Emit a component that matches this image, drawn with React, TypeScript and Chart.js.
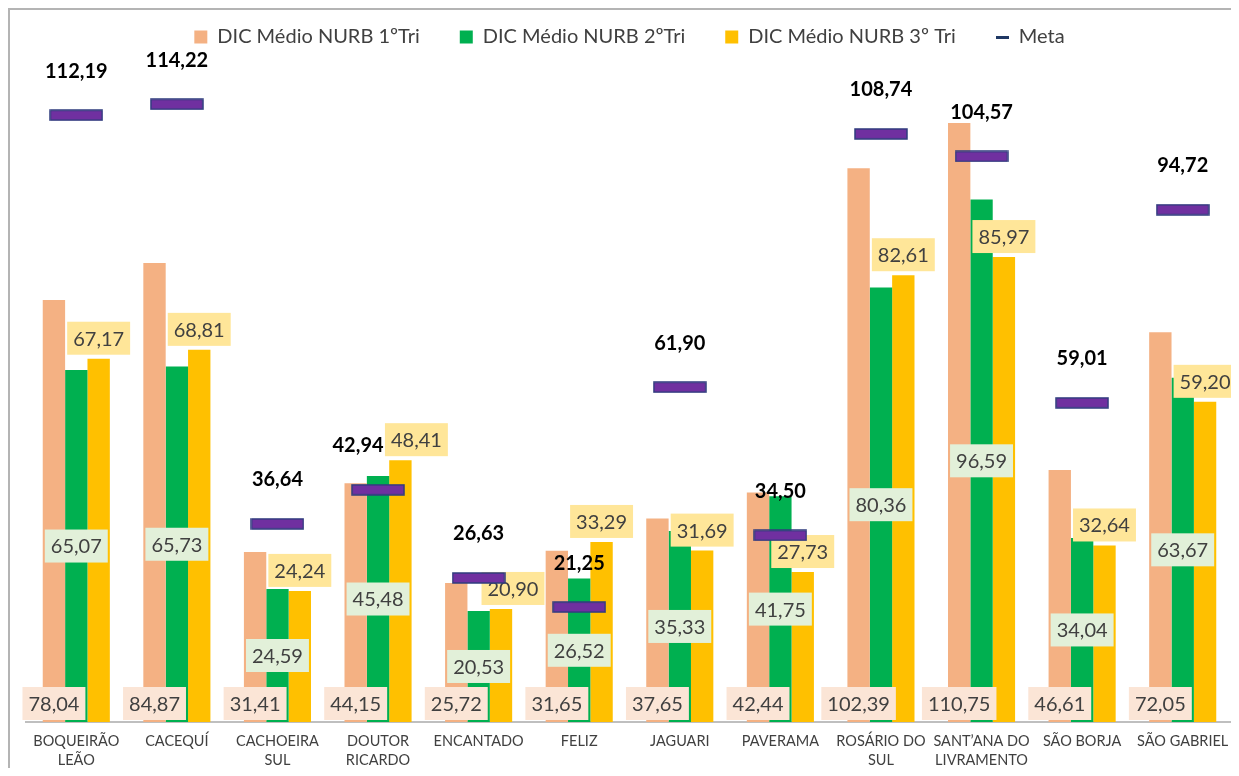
import React, { useEffect, useRef } from 'react';
import { Chart, registerables } from 'chart.js';

Chart.register(...registerables);

const categories: string[][] = [
  ['BOQUEIRÃO', 'LEÃO'],
  ['CACEQUÍ'],
  ['CACHOEIRA', 'SUL'],
  ['DOUTOR', 'RICARDO'],
  ['ENCANTADO'],
  ['FELIZ'],
  ['JAGUARI'],
  ['PAVERAMA'],
  ['ROSÁRIO DO', 'SUL'],
  ['SANT’ANA DO', 'LIVRAMENTO'],
  ['SÃO BORJA'],
  ['SÃO GABRIEL'],
];
const dicTri1 = [78.04, 84.87, 31.41, 44.15, 25.72, 31.65, 37.65, 42.44, 102.39, 110.75, 46.61, 72.05];
const dicTri2 = [65.07, 65.73, 24.59, 45.48, 20.53, 26.52, 35.33, 41.75, 80.36, 96.59, 34.04, 63.67];
const dicTri3 = [67.17, 68.81, 24.24, 48.41, 20.9, 33.29, 31.69, 27.73, 82.61, 85.97, 32.64, 59.2];
const metaValues = [112.19, 114.22, 36.64, 42.94, 26.63, 21.25, 61.9, 34.5, 108.74, 104.57, 59.01, 94.72];
const seriesNames = ['DIC Médio NURB 1ºTri', 'DIC Médio NURB 2ºTri', 'DIC Médio NURB 3º Tri', 'Meta'];
const yMin = 0;
const yMax = 120;

const COLORS = ['#F4B183', '#00B050', '#FFC000'];
const LABEL_BG = ['#FBE5D6', '#E2F0D9', '#FFE699'];
const TEXT = '#404040';
const FONT = 'Lato, "Open Sans", sans-serif';
// hand-placed label nudges (datasetIndex:categoryIndex -> dx in px), as in the original figure
const LABEL_NUDGE: Record<string, number> = { '3:3': -20, '2:3': 16, '2:4': 12 };

const fmt = (v: number) => v.toFixed(2).replace('.', ',');

function makeMarker() {
  const c = document.createElement('canvas');
  c.width = 54;
  c.height = 12;
  const g = c.getContext('2d')!;
  g.fillStyle = '#7030A0';
  g.fillRect(1, 1, 52, 10);
  g.strokeStyle = '#2F3C7E';
  g.lineWidth = 1.5;
  g.strokeRect(1, 1, 52, 10);
  return c;
}

function makeLegendDash() {
  const c = document.createElement('canvas');
  c.width = 13;
  c.height = 3;
  const g = c.getContext('2d')!;
  g.fillStyle = '#1F3864';
  g.fillRect(0, 0, 13, 3);
  return c;
}

function drawBarLabels(chart: any) {
  const ctx: CanvasRenderingContext2D = chart.ctx;
  ctx.save();
  for (let di = 0; di < 3; di++) {
    const ds = chart.data.datasets[di];
    const meta = chart.getDatasetMeta(di);
    meta.data.forEach((el: any, i: number) => {
      const text = fmt(ds.data[i] as number);
      const p = el.getProps(['x', 'y', 'base'], true);
      const h = 33;
      let cy: number;
      if (di === 0) cy = p.base - 2 - h / 2;
      else if (di === 1) cy = (p.y + p.base) / 2;
      else cy = p.y - 4 - h / 2;
      const cx = p.x + (LABEL_NUDGE[`${di}:${i}`] || 0);
      ctx.font = `20px ${FONT}`;
      const w = ctx.measureText(text).width + 12;
      ctx.fillStyle = LABEL_BG[di];
      ctx.fillRect(cx - w / 2, cy - h / 2, w, h);
      ctx.fillStyle = TEXT;
      ctx.textAlign = 'center';
      ctx.textBaseline = 'middle';
      ctx.fillText(text, cx, cy + 1);
    });
  }
  ctx.restore();
}

const labelPlugin = {
  id: 'valueLabels',
  beforeDatasetDraw(chart: any, args: any) {
    if (args.index === 3) drawBarLabels(chart);
  },
  afterDatasetsDraw(chart: any) {
    const ctx: CanvasRenderingContext2D = chart.ctx;
    ctx.save();
    const ds = chart.data.datasets[3];
    const meta = chart.getDatasetMeta(3);
    meta.data.forEach((el: any, i: number) => {
      const p = el.getProps(['x', 'y'], true);
      ctx.font = `bold 20px ${FONT}`;
      ctx.fillStyle = '#000000';
      ctx.textAlign = 'center';
      ctx.textBaseline = 'middle';
      ctx.fillText(fmt(ds.data[i] as number), p.x + (LABEL_NUDGE[`3:${i}`] || 0), p.y - 44);
    });
    ctx.restore();
  },
};

const legendSpacing = {
  id: 'legendSpacing',
  beforeInit(chart: any) {
    const legend = chart.legend;
    if (!legend) return;
    const orig = legend.fit;
    legend.fit = function () {
      orig.call(this);
      this.height += 16;
    };
  },
};

export default function App() {
  const ref = useRef<HTMLCanvasElement | null>(null);

  useEffect(() => {
    if (!ref.current) return;
    const marker = makeMarker();
    const dash = makeLegendDash();
    const chart = new Chart(ref.current, {
      type: 'bar',
      data: {
        labels: categories,
        datasets: [
          { label: seriesNames[0], data: dicTri1, backgroundColor: COLORS[0], order: 1, categoryPercentage: 0.667, barPercentage: 1 } as any,
          { label: seriesNames[1], data: dicTri2, backgroundColor: COLORS[1], order: 1, categoryPercentage: 0.667, barPercentage: 1 } as any,
          { label: seriesNames[2], data: dicTri3, backgroundColor: COLORS[2], order: 1, categoryPercentage: 0.667, barPercentage: 1 } as any,
          {
            type: 'line',
            label: seriesNames[3],
            data: metaValues,
            showLine: false,
            pointStyle: marker,
            pointRadius: 5,
            backgroundColor: '#7030A0',
            borderColor: '#1F3864',
            order: 0,
          } as any,
        ],
      },
      options: {
        responsive: false,
        animation: false,
        layout: { padding: { top: -23, left: 16, right: 6, bottom: 0 } },
        plugins: {
          tooltip: { enabled: false },
          legend: {
            position: 'top',
            labels: {
              usePointStyle: true,
              boxWidth: 13,
              boxHeight: 13,
              padding: 40,
              color: TEXT,
              font: { family: FONT, size: 20 },
              sort: (a: any, b: any) => a.datasetIndex - b.datasetIndex,
              generateLabels: (c: any) => {
                const items = (Chart.defaults.plugins.legend.labels as any).generateLabels(c);
                return items.map((it: any) =>
                  it.datasetIndex === 3
                    ? { ...it, pointStyle: dash, lineWidth: 0 }
                    : { ...it, pointStyle: 'rect', lineWidth: 0 }
                );
              },
            },
          },
        },
        scales: {
          x: {
            grid: { display: false, drawTicks: false },
            border: { display: true, color: '#BFBFBF', width: 2 },
            ticks: {
              color: TEXT,
              font: { family: FONT, size: 14.5, lineHeight: 1.31 },
              padding: 10,
              maxRotation: 0,
              autoSkip: false,
            },
            afterFit: (s: any) => {
              s.height = 46;
            },
          },
          y: { display: false, min: yMin, max: yMax },
        },
      } as any,
      plugins: [labelPlugin, legendSpacing],
    });
    return () => chart.destroy();
  }, []);

  return (
    <div
      style={{
        boxSizing: 'border-box',
        width: 1231,
        height: 760,
        borderLeft: '2px solid #B4B4B4',
        borderTop: '2px solid #B4B4B4',
        overflow: 'hidden',
        background: '#FFFFFF',
      }}
    >
      <canvas ref={ref} width={1229} height={758} style={{ display: 'block' }} />
    </div>
  );
}
